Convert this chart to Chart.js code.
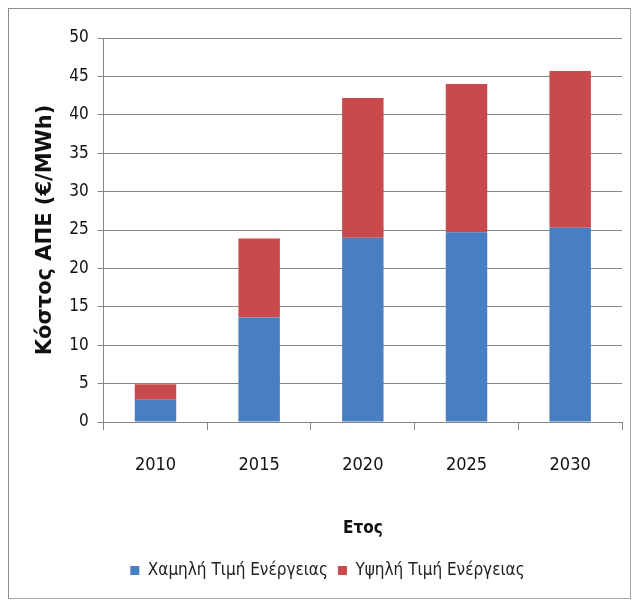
<!DOCTYPE html>
<html lang="el">
<head>
<meta charset="utf-8">
<title>Κόστος ΑΠΕ</title>
<script src="https://cdn.jsdelivr.net/npm/chart.js@4.4.1/dist/chart.umd.min.js"></script>
<style>
  html, body { margin: 0; padding: 0; background: #fff; }
  body { position: relative; width: 633px; height: 603px; overflow: hidden; }
  #frame {
    position: absolute; left: 8px; top: 8px; width: 621px; height: 589px;
    border: 1px solid #a8a8a8; border-left-color: #8c8c8c; border-top-color: #8c8c8c;
  }
  #wrap { position: absolute; left: 0; top: 0; width: 633px; height: 603px; }
</style>
</head>
<body>
<div id="frame"></div>
<div id="wrap"><canvas id="cost"></canvas></div>
<script>
// RES cost per scenario, stacked by year
const years     = ['2010', '2015', '2020', '2025', '2030'];
const lowPrice  = [2.9, 13.6, 24.0, 24.7, 25.3];   // Χαμηλή Τιμή Ενέργειας
const highPrice = [2.0, 10.3, 18.2, 19.3, 20.4];   // Υψηλή Τιμή Ενέργειας (on top)
const yTicks    = [0, 5, 10, 15, 20, 25, 30, 35, 40, 45, 50];

const NARROW = '"DejaVu Sans Condensed", "Liberation Sans Narrow", sans-serif';
const GRID = '#868686';

new Chart(document.getElementById('cost'), {
  type: 'bar',
  data: {
    labels: years,
    datasets: [
      { label: 'Χαμηλή Τιμή Ενέργειας', data: lowPrice,  backgroundColor: '#4a7ec2' },
      { label: 'Υψηλή Τιμή Ενέργειας',  data: highPrice, backgroundColor: '#c94a4c' }
    ]
  },
  options: {
    responsive: true,
    maintainAspectRatio: false,
    animation: false,
    barPercentage: 0.4,
    categoryPercentage: 1,
    layout: { padding: { left: 33, right: 11, top: 38, bottom: 14 } },
    plugins: {
      tooltip: { enabled: false },
      legend: {
        position: 'bottom',
        labels: {
          boxWidth: 9, boxHeight: 9, padding: 10,
          color: '#222',
          font: { family: NARROW, size: 17 }
        }
      }
    },
    scales: {
      x: {
        stacked: true,
        border: { color: GRID, width: 1 },
        grid: { drawOnChartArea: false, color: GRID, tickLength: 8, offset: true },
        ticks: { color: '#111', padding: 25, font: { family: NARROW, size: 18 } },
        title: {
          display: true, text: 'Ετος', color: '#111',
          padding: { top: 17, bottom: 13 },
          font: { family: NARROW, size: 17, weight: 'bold' }
        }
      },
      y: {
        stacked: true,
        min: 0, max: 50,
        afterBuildTicks: axis => { axis.ticks = yTicks.map(v => ({ value: v })); },
        border: { color: GRID, width: 1 },
        grid: { color: GRID, tickLength: 6 },
        ticks: { color: '#111', padding: 9, font: { family: NARROW, size: 17 } },
        title: {
          display: true, text: 'Κόστος ΑΠΕ (€/MWh)', color: '#111',
          padding: { top: 0, bottom: 2 },
          font: { family: '"DejaVu Sans", sans-serif', size: 21, weight: 'bold' }
        }
      }
    }
  }
});
</script>
</body>
</html>
